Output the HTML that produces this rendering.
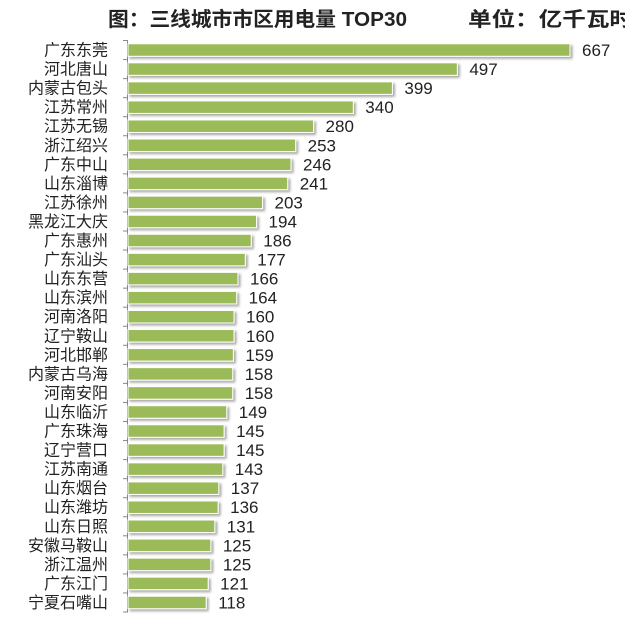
<!DOCTYPE html>
<html><head><meta charset="utf-8">
<style>
html,body{margin:0;padding:0;background:#fff;}
body{width:625px;height:618px;overflow:hidden;font-family:"Liberation Sans","Noto Sans CJK SC",sans-serif;}
</style></head>
<body>
<svg id="chart" width="625" height="618" xmlns="http://www.w3.org/2000/svg">
<defs>
<filter id="sh" x="-5%" y="-30%" width="110%" height="180%">
<feDropShadow dx="2" dy="2" stdDeviation="1.2" flood-color="#000" flood-opacity="0.35"/>
</filter>
</defs>
<text x="108" y="26" font-size="20" font-weight="bold" fill="#222" textLength="299" lengthAdjust="spacingAndGlyphs" font-family="Liberation Sans, Noto Sans CJK SC, sans-serif">图：三线城市市区用电量 TOP30</text>
<text x="468" y="26" font-size="20" font-weight="bold" fill="#222" textLength="165" lengthAdjust="spacingAndGlyphs" font-family="Liberation Sans, Noto Sans CJK SC, sans-serif">单位：亿千瓦时</text>
<g id="bars"></g>
</svg>
<script>
const categories=["广东东莞","河北唐山","内蒙古包头","江苏常州","江苏无锡","浙江绍兴","广东中山","山东淄博","江苏徐州","黑龙江大庆","广东惠州","广东汕头","山东东营","山东滨州","河南洛阳","辽宁鞍山","河北邯郸","内蒙古乌海","河南安阳","山东临沂","广东珠海","辽宁营口","江苏南通","山东烟台","山东潍坊","山东日照","安徽马鞍山","浙江温州","广东江门","宁夏石嘴山"];
const values=[667,497,399,340,280,253,246,241,203,194,186,177,166,164,160,160,159,158,158,149,145,145,143,137,136,131,125,125,121,118];
const NS="http://www.w3.org/2000/svg";
const gBars=document.getElementById('bars');
const x0=128, yTop=40.5, band=(612-40.5)/categories.length, barH=12.5;
const xScale=v=>x0+v*(570-x0)/667;
const yScale=i=>yTop+i*band;
function mk(t,a){const e=document.createElementNS(NS,t);for(const k in a)e.setAttribute(k,a[k]);gBars.appendChild(e);return e;}
const axis=mk('line',{x1:x0-0.5,x2:x0-0.5,y1:yTop,y2:yTop+band*categories.length,stroke:'#888','stroke-width':1});


for(let i=0;i<=categories.length;i++){
  const t=mk('line',{x1:x0-5,x2:x0,y1:yScale(i),y2:yScale(i),stroke:'#888','stroke-width':1});
  
  
}
categories.forEach((c,i)=>{
  const cy=yScale(i)+band/2;
  const r=mk('rect',{x:x0,y:cy-barH/2,width:xScale(values[i])-x0,height:barH,fill:'#9BBB59',stroke:'#fff','stroke-width':1,filter:'url(#sh)'});
  
  
  const l=mk('text',{x:x0-20,y:cy+5.5,'text-anchor':'end','font-size':16,fill:'#222'});
  l.textContent=c;
  
  
  const v=mk('text',{x:xScale(values[i])+12,y:cy+6,'font-size':17,fill:'#222'});
  v.textContent=values[i];
  
  
});
</script>
</body></html>
